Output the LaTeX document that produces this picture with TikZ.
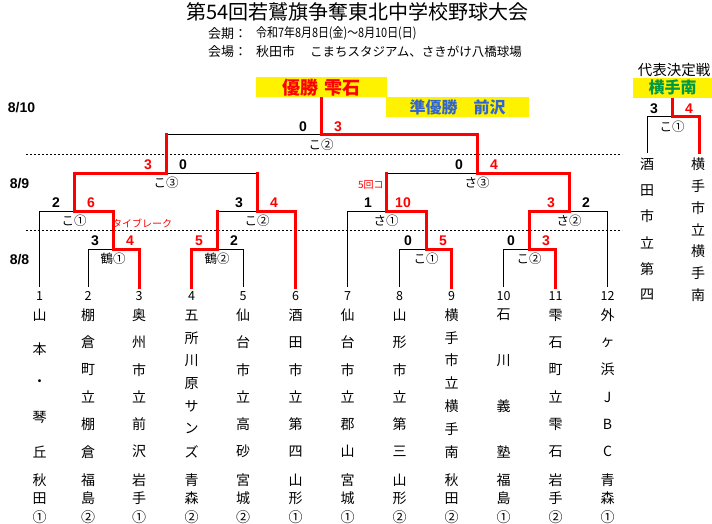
\documentclass[tikz,border=0pt]{standalone}
\usepackage{fontspec}
\usepackage{graphicx}
\setmainfont{Noto Sans CJK JP}
\newfontfamily\scorefont{Liberation Sans}
\definecolor{runnerblue}{RGB}{51,102,204}
\definecolor{repgreen}{RGB}{0,153,68}

\tikzset{
  lose/.style={line width=1pt},
  win/.style={draw=red, line width=3pt, line cap=rect},
  dayline/.style={line width=1pt, dash pattern=on 2pt off 2pt},
  score/.style={inner sep=0pt, font=\scorefont\bfseries\fontsize{14}{14}\selectfont},
  game/.style={inner sep=0pt, font=\fontsize{12.5}{12.5}\selectfont},
  teamch/.style={inner sep=0pt, font=\fontsize{14}{14}\selectfont},
  numlbl/.style={inner sep=0pt, font=\fontsize{12.5}{12.5}\selectfont},
  hdr/.style={inner sep=0pt, font=\fontsize{13}{13}\selectfont},
  daylbl/.style={inner sep=0pt, font=\scorefont\bfseries\fontsize{14}{14}\selectfont},
  banner/.style={fill=yellow, inner sep=0pt, font=\bfseries\fontsize{16}{16}\selectfont},
  note/.style={inner sep=0pt, text=red, font=\fontsize{10}{10}\selectfont},
}

% id, x, top y, bottom y, number of characters, characters
\newcommand{\teamname}[6]{%
  \foreach \chr [count=\k] in {#6}
    \node[teamch] (#1-\k) at (#2,{#3+(\k-1)*(#4-#3)/(#5-1)}) {\chr};}

% match, left score, right score, left colour, right colour, label
\newcommand{\game}[6]{%
  \node[score, text=#4] (#1-l) at ([xshift=-18pt, yshift=8pt]#1) {#2};
  \node[score, text=#5] (#1-r) at ([xshift=17pt, yshift=8pt]#1) {#3};
  \node[game] (#1-g) at ([yshift=-10pt]#1) {#6};}

\begin{document}
\begin{tikzpicture}[x=1pt, y=-1pt] %若鷲旗 組合せ
  \useasboundingbox (0,0) rectangle (712,524);

  \node[inner sep=0pt, font=\fontsize{20}{20}\selectfont] (title) at (357.5,12) {第54回若鷲旗争奪東北中学校野球大会};
  \node[hdr, anchor=west] (termlbl) at (208,33.3) {会期：};
  \node[hdr, anchor=west] (term) at (256,33.3) {\scalebox{0.84}[1]{令和7年8月8日(金)～8月10日(日)}};
  \node[hdr, anchor=west] (venuelbl) at (208,52) {会場：};
  \node[hdr, anchor=west] (venuea) at (256,52) {秋田市};
  \node[hdr, anchor=west, font=\fontsize{12.5}{12.5}\selectfont] (venueb) at (310,52) {こまちスタジアム、さきがけ八橋球場};

  \node[banner, text=red, minimum width=131pt, minimum height=20pt, font=\bfseries\fontsize{18}{18}\selectfont] (champ) at (321.2,87.3) {優勝\hspace{6pt}雫石};
  \node[banner, text=runnerblue, minimum width=143.6pt, minimum height=19.4pt] (runner) at (457.5,107) {準優勝　前沢};
  \node[inner sep=0pt, font=\fontsize{14.5}{14.5}\selectfont] (replbl) at (674,70) {代表決定戦};
  \node[banner, text=repgreen, minimum width=78.7pt, minimum height=20pt] (repbox) at (672.7,87.7) {横手南};

  \node[daylbl] (d10) at (21.5,108) {8/10};
  \node[daylbl] (d9) at (19.5,183.3) {8/9};
  \node[daylbl] (d8) at (19.5,260) {8/8};
  \draw[dayline] (26,154.3) -- (622,154.3);
  \draw[dayline] (26,230) -- (622,230);

  \foreach \n/\x/\pa/\pb/\cn in {1/39.5/秋/田/①, 2/88/福/島/②, 3/139/岩/手/①,
      4/191.5/青/森/②, 5/243/宮/城/②, 6/295.5/山/形/①, 7/347.5/宮/城/①,
      8/399.5/山/形/②, 9/451.5/秋/田/②, 10/503.5/福/島/①, 11/555.5/岩/手/②,
      12/607.5/青/森/①} {
    \coordinate (t\n) at (\x,287);
    \node[numlbl] (no\n) at (\x,296) {\n};
    \node[teamch] (pa\n) at (\x,480) {\pa};
    \node[teamch] (pb\n) at (\x,498.3) {\pb};
    \node[teamch] (bl\n) at (\x,516.7) {\cn};
  }
  \teamname{tm1}{39.5}{315}{451.7}{5}{山,本,・,琴,丘}
  \teamname{tm2}{88}{315}{451.7}{6}{棚,倉,町,立,棚,倉}
  \teamname{tm3}{139}{315}{451.7}{6}{奥,州,市,立,前,沢}
  \teamname{tm4}{191.5}{315}{451.7}{7}{五,所,川,原,サ,ン,ズ}
  \teamname{tm5}{243}{315}{451.7}{6}{仙,台,市,立,高,砂}
  \teamname{tm6}{295.5}{315}{451.7}{6}{酒,田,市,立,第,四}
  \teamname{tm7}{347.5}{315}{451.7}{6}{仙,台,市,立,郡,山}
  \teamname{tm8}{399.5}{315}{451.7}{6}{山,形,市,立,第,三}
  \teamname{tm9}{451.5}{315}{451.7}{7}{横,手,市,立,横,手,南}
  \teamname{tm10}{503.5}{315}{451.7}{4}{石,川,義,塾}
  \teamname{tm11}{555.5}{315}{451.7}{6}{雫,石,町,立,雫,石}
  \teamname{tm12}{607.5}{315}{451.7}{6}{外,ヶ,浜,J,B,C}
  \coordinate (ra) at (647,153);
  \coordinate (rb) at (699,153);
  \teamname{tmA}{647}{164.3}{295}{6}{酒,田,市,立,第,四}
  \teamname{tmB}{698}{164.3}{295}{7}{横,手,市,立,横,手,南}

  \coordinate (r1a) at (113,249);
  \coordinate (r1b) at (217,249);
  \coordinate (r1c) at (426,249);
  \coordinate (r1d) at (529,249);
  \coordinate (qf1) at (74,211);
  \coordinate (qf2) at (257,211);
  \coordinate (qf3) at (386,211);
  \coordinate (qf4) at (569,211);
  \coordinate (sfl) at (166,173);
  \coordinate (sfr) at (477,173);
  \coordinate (fin) at (321,135);
  \coordinate (rep) at (672,117);

  \draw[lose] (t2) |- (r1a);
  \draw[lose] (t5) |- (r1b);
  \draw[lose] (t8) |- (r1c);
  \draw[lose] (t10) |- (r1d);
  \draw[lose] (t1) |- (qf1);
  \draw[lose] (r1b |- qf2) -- (qf2);
  \draw[lose] (t7) |- (qf3);
  \draw[lose] (t12) |- (qf4);
  \draw[lose] (qf2 |- sfl) -- (sfl);
  \draw[lose] (qf3 |- sfr) -- (sfr);
  \draw[lose] (sfl |- fin) -- (fin);
  \draw[lose] (ra) |- (rep);

  \draw[win] (t3) |- (r1a);
  \draw[win] (t4) |- (r1b);
  \draw[win] (t9) |- (r1c);
  \draw[win] (t11) |- (r1d);
  \draw[win] (r1a) |- (qf1);
  \draw[win] (r1b) -- (r1b |- qf2);
  \draw[win] (t6) |- (qf2);
  \draw[win] (r1c) |- (qf3);
  \draw[win] (r1d) |- (qf4);
  \draw[win] (qf1) |- (sfl);
  \draw[win] (qf2) -- (qf2 |- sfl);
  \draw[win] (qf3) -- (qf3 |- sfr);
  \draw[win] (qf4) |- (sfr);
  \draw[win] (sfl) -- (sfl |- fin);
  \draw[win] (sfr) |- (fin);
  \draw[win, line cap=butt] (fin) -- (fin |- champ.south);
  \draw[win] (rb) |- (rep);
  \draw[win, line cap=butt] (rep) -- (rep |- repbox.south);

  \game{fin}{0}{3}{black}{red}{こ②}
  \game{sfl}{3}{0}{red}{black}{こ③}
  \game{sfr}{0}{4}{black}{red}{さ③}
  \game{qf1}{2}{6}{black}{red}{こ①}
  \game{qf2}{3}{4}{black}{red}{こ②}
  \game{qf3}{1}{10}{black}{red}{さ①}
  \game{qf4}{3}{2}{red}{black}{さ②}
  \game{r1a}{3}{4}{black}{red}{鶴①}
  \game{r1b}{5}{2}{red}{black}{鶴②}
  \game{r1c}{0}{5}{black}{red}{こ①}
  \game{r1d}{0}{3}{black}{red}{こ②}
  \game{rep}{3}{4}{black}{red}{こ①}

  \node[note] (tiebreak) at (142,223.3) {タイブレーク};
  \node[note] (called) at (370.8,185) {5回コ};
\end{tikzpicture}
\end{document}
